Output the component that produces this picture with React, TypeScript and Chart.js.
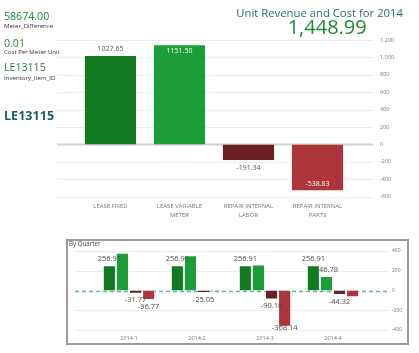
import React, { useEffect, useRef } from 'react';
import { Chart, registerables } from 'chart.js';

Chart.register(...registerables);

// ---------- DATA ----------
const mainCategories: string[][] = [
  ['LEASE FIXED'],
  ['LEASE VARIABLE', 'METER'],
  ['REPAIR INTERNAL', 'LABOR'],
  ['REPAIR INTERNAL', 'PARTS'],
];
const mainValues = [1027.65, 1151.5, -191.34, -538.83];
const mainColors = ['#137a1f', '#1b9e37', '#6a1f22', '#ad353a'];
const mainYMin = -600;
const mainYMax = 1200;
const mainYStep = 200;

const quarters = ['2014-1', '2014-2', '2014-3', '2014-4'];
const qLeaseFixed = [256.91, 256.91, 256.91, 256.91];
const qLeaseVariable = [382.5, 358.2, 264.02, 146.78];
const qRepairLabor = [-31.77, -25.05, -90.18, -44.32];
const qRepairParts = [-96.77, -6.0, -368.14, -67.92];
const qShownFixed = [true, true, true, true];
const qShownVariable = [false, false, false, true];
const qShownLabor = [true, true, true, true];
const qShownParts = [true, false, true, false];
const qYMin = -400;
const qYMax = 400;
const qYStep = 200;

const FONT = '"Open Sans", "DejaVu Sans", sans-serif';

// ---------- PLUGINS ----------
const gridPlugin = {
  id: 'extGrid',
  beforeDatasetsDraw(chart: any, _args: any, opts: any) {
    const { ctx } = chart;
    const y = chart.scales.y;
    ctx.save();
    y.ticks.forEach((t: any) => {
      const py = Math.round(y.getPixelForValue(t.value)) + 0.5;
      ctx.beginPath();
      if (t.value === 0) {
        ctx.strokeStyle = opts.zeroColor;
        ctx.lineWidth = opts.zeroWidth;
        ctx.setLineDash(opts.zeroDash || []);
      } else {
        ctx.strokeStyle = opts.color;
        ctx.lineWidth = 1;
        ctx.setLineDash([]);
      }
      ctx.moveTo(opts.x1, py);
      ctx.lineTo(opts.x2, py);
      ctx.stroke();
    });
    ctx.restore();
  },
};

const valueLabelPlugin = {
  id: 'valueLabels',
  afterDatasetDraw(chart: any, args: any, opts: any) {
    if (!opts || !opts.shown) return;
    const dsIndex = args.index;
    const meta = args.meta;
    const shown = opts.shown[dsIndex];
    const { ctx, chartArea } = chart;
    ctx.save();
    ctx.font = `${opts.weight || 'normal'} ${opts.size}px ${FONT}`;
    ctx.textAlign = 'center';
    ctx.textBaseline = 'middle';
    meta.data.forEach((bar: any, i: number) => {
      if (!shown || !shown[i]) return;
      const v = chart.data.datasets[dsIndex].data[i];
      const txt = v.toFixed(2);
      const pos = v >= 0;
      let y = pos ? bar.y - opts.offset : bar.y + opts.offset;
      let color = opts.color;
      if (opts.mode === 'inside') {
        if (pos && y - opts.size / 2 < chartArea.top) {
          y = bar.y + opts.inset;
          color = '#ffffff';
        }
        if (!pos && y + opts.size / 2 > chartArea.bottom) {
          y = bar.y - opts.inset;
          color = '#ffffff';
        }
      } else {
        y = Math.max(chartArea.top + 3, Math.min(chartArea.bottom - 2, y));
      }
      ctx.fillStyle = color;
      ctx.fillText(txt, bar.x, y);
    });
    ctx.restore();
  },
};

const fmt = (v: number) => v.toLocaleString('en-US');

// ---------- COMPONENTS ----------
function MainChart() {
  const ref = useRef<HTMLCanvasElement>(null);
  useEffect(() => {
    if (!ref.current) return;
    const chart = new Chart(ref.current, {
      type: 'bar',
      data: {
        labels: mainCategories,
        datasets: [
          {
            data: mainValues,
            backgroundColor: mainColors,
            borderColor: 'rgba(255,255,255,0.45)',
            borderWidth: 1,
            barPercentage: 0.77,
            categoryPercentage: 1,
          },
        ],
      },
      plugins: [gridPlugin, valueLabelPlugin],
      options: {
        responsive: false,
        animation: false,
        devicePixelRatio: 1,
        layout: { padding: { left: 76, right: 17, top: 40, bottom: 3.3 } },
        plugins: {
          legend: { display: false },
          tooltip: { enabled: false },
          extGrid: { x1: 57, x2: 373, color: '#ececec', zeroColor: '#cfcfcf', zeroWidth: 2 },
          valueLabels: {
            shown: [[true, true, true, true]],
            size: 7,
            color: '#555555',
            offset: 6.5,
            inset: 7,
            mode: 'inside',
          },
        } as any,
        scales: {
          x: {
            grid: { display: false, drawTicks: false },
            border: { display: false },
            ticks: {
              font: { family: FONT, size: 6, lineHeight: 1.35 },
              color: '#777777',
              padding: 6,
              autoSkip: false,
              maxRotation: 0,
            },
            afterFit: (s: any) => {
              s.height = 25;
            },
          },
          y: {
            position: 'right',
            min: mainYMin,
            max: mainYMax,
            grid: { display: false, drawTicks: true, tickLength: 28 },
            border: { display: false },
            ticks: {
              stepSize: mainYStep,
              font: { family: FONT, size: 5.5 },
              color: '#777777',
              padding: 0,
              callback: (v: any) => fmt(Number(v)),
            },
            afterFit: (s: any) => {
              s.width = 50;
            },
          },
        },
      },
    });
    return () => chart.destroy();
  }, []);
  return (
    <canvas
      ref={ref}
      width={419}
      height={225}
      style={{ position: 'absolute', left: 0, top: 0, width: 419, height: 225 }}
    />
  );
}

function QuarterChart() {
  const ref = useRef<HTMLCanvasElement>(null);
  useEffect(() => {
    if (!ref.current) return;
    const common = {
      borderColor: 'rgba(255,255,255,0.35)',
      borderWidth: 1,
      barPercentage: 1,
      categoryPercentage: 0.77,
    };
    const chart = new Chart(ref.current, {
      type: 'bar',
      data: {
        labels: quarters,
        datasets: [
          { label: 'LEASE FIXED', data: qLeaseFixed, backgroundColor: mainColors[0], ...common },
          { label: 'LEASE VARIABLE METER', data: qLeaseVariable, backgroundColor: mainColors[1], ...common },
          { label: 'REPAIR INTERNAL LABOR', data: qRepairLabor, backgroundColor: mainColors[2], ...common },
          { label: 'REPAIR INTERNAL PARTS', data: qRepairParts, backgroundColor: mainColors[3], ...common },
        ],
      },
      plugins: [gridPlugin, valueLabelPlugin],
      options: {
        responsive: false,
        animation: false,
        devicePixelRatio: 1,
        layout: { padding: { left: 95, right: 12, top: 12, bottom: 3 } },
        plugins: {
          legend: { display: false },
          tooltip: { enabled: false },
          extGrid: {
            x1: 75,
            x2: 388,
            color: '#ececec',
            zeroColor: '#5bb6b0',
            zeroWidth: 1.5,
            zeroDash: [4, 3],
          },
          valueLabels: {
            shown: [qShownFixed, qShownVariable, qShownLabor, qShownParts],
            size: 7.5,
            color: '#4a4a4a',
            offset: 6.5,
            inset: 7,
            mode: 'clamp',
          },
        } as any,
        scales: {
          x: {
            grid: { display: false, drawTicks: false },
            border: { display: false },
            ticks: {
              font: { family: FONT, size: 5.5 },
              color: '#777777',
              padding: 5,
              autoSkip: false,
              maxRotation: 0,
            },
            afterFit: (s: any) => {
              s.height = 12;
            },
          },
          y: {
            position: 'right',
            min: qYMin,
            max: qYMax,
            grid: { display: false, drawTicks: true, tickLength: 25 },
            border: { display: false },
            ticks: {
              stepSize: qYStep,
              font: { family: FONT, size: 5 },
              color: '#777777',
              padding: 0,
              callback: (v: any) => fmt(Number(v)),
            },
            afterFit: (s: any) => {
              s.width = 40;
            },
          },
        },
      },
    });
    return () => chart.destroy();
  }, []);
  return (
    <canvas
      ref={ref}
      width={419}
      height={106}
      style={{ position: 'absolute', left: 0, top: 239, width: 419, height: 106 }}
    />
  );
}

const txt = (
  content: string,
  left: number,
  top: number,
  size: number,
  color: string,
  weight: number | string = 400,
  extra: React.CSSProperties = {}
) => (
  <div
    style={{
      position: 'absolute',
      left,
      top,
      fontSize: size,
      lineHeight: 1,
      color,
      fontWeight: weight as any,
      fontFamily: FONT,
      whiteSpace: 'nowrap',
      ...extra,
    }}
  >
    {content}
  </div>
);

export default function App() {
  return (
    <div
      style={{
        position: 'absolute',
        left: 0,
        top: 0,
        width: 419,
        height: 353,
        background: '#ffffff',
        overflow: 'hidden',
      }}
    >
      <MainChart />
      <div
        style={{
          position: 'absolute',
          left: 66,
          top: 239,
          width: 343,
          height: 106,
          border: '2px solid #9a9a9a',
          boxSizing: 'border-box',
        }}
      />
      <QuarterChart />
      {txt('By Quarter', 69, 241, 6.2, '#444444')}
      {txt('58674.00', 4, 11, 10.6, '#1e8a32')}
      {txt('Meter_Difference', 4, 23, 6.1, '#333333')}
      {txt('0.01', 4, 37.6, 10.6, '#1e8a32')}
      {txt('Cost Per Meter Unit', 4, 49.2, 6.1, '#333333')}
      {txt('LE13115', 4, 61.6, 10.6, '#1e8a32')}
      {txt('Inventory_Item_ID', 4, 75, 6.1, '#333333')}
      {txt('LE13115', 4, 109.8, 12.6, '#1d5f6e', 700)}
      <div
        style={{
          position: 'absolute',
          right: 16,
          top: 6.8,
          fontSize: 11.3,
          lineHeight: 1,
          color: '#2b6f73',
          fontFamily: FONT,
          whiteSpace: 'nowrap',
        }}
      >
        Unit Revenue and Cost for 2014
      </div>
      {txt('1,448.99', 287.7, 17, 20, '#1e8a32', 500)}
    </div>
  );
}
